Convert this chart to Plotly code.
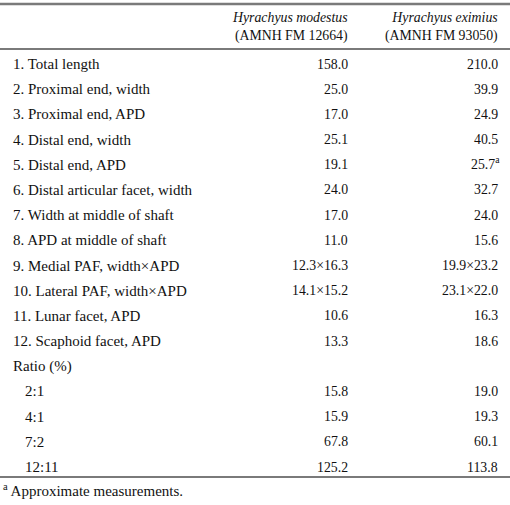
import plotly.graph_objects as go

row_labels = [
    "1. Total length", "2. Proximal end, width", "3. Proximal end, APD",
    "4. Distal end, width", "5. Distal end, APD", "6. Distal articular facet, width",
    "7. Width at middle of shaft", "8. APD at middle of shaft",
    "9. Medial PAF, width×APD", "10. Lateral PAF, width×APD",
    "11. Lunar facet, APD", "12. Scaphoid facet, APD",
    "Ratio (%)", "2:1", "4:1", "7:2", "12:11",
]
indented = [False] * 13 + [True] * 4
modestus = ["158.0", "25.0", "17.0", "25.1", "19.1", "24.0", "17.0", "11.0",
            "12.3×16.3", "14.1×15.2", "10.6", "13.3", "", "15.8", "15.9", "67.8", "125.2"]
eximius = ["210.0", "39.9", "24.9", "40.5", "25.7<sup>a</sup>", "32.7", "24.0", "15.6",
           "19.9×23.2", "23.1×22.0", "16.3", "18.6", "", "19.0", "19.3", "60.1", "113.8"]
headers = ["<i>Hyrachyus modestus</i><br>(AMNH FM 12664)",
           "<i>Hyrachyus eximius</i><br>(AMNH FM 93050)"]
footnote = "<sup>a</sup> Approximate measurements."

FAM = "Liberation Serif"
LABEL = dict(family=FAM, size=15, color="#111")
NUM = dict(family=FAM, size=13.8, color="#111")
HEAD = dict(family=FAM, size=13.8, color="#111")
FOOT = dict(family=FAM, size=15, color="#111")
W, H = 510, 505
y0, dy = 64, 25.19
col_x = [350, 500]

fig = go.Figure()
fig.add_trace(go.Scatter(x=[0, W], y=[0, H], mode="markers", marker=dict(opacity=0),
                         hoverinfo="skip", showlegend=False))

ann = []
for i, lab in enumerate(row_labels):
    y = y0 + i * dy
    ann.append(dict(x=23 if indented[i] else 11, y=y, text=lab, xanchor="left", yanchor="middle", font=LABEL))
    if modestus[i]:
        ann.append(dict(x=col_x[0], y=y, text=modestus[i], xanchor="right", yanchor="middle", font=NUM))
    if eximius[i]:
        sup = "<sup>" in eximius[i]
        ann.append(dict(x=col_x[1] + (2 if sup else 0), y=y - (1.5 if sup else 0), text=eximius[i],
                        xanchor="right", yanchor="middle", font=NUM))
for cx, h in zip(col_x, headers):
    ann.append(dict(x=cx, y=26.5, text=h, xanchor="right", yanchor="middle", align="right", font=HEAD))
ann.append(dict(x=1, y=490, text=footnote, xanchor="left", yanchor="middle", font=FOOT))
for a in ann:
    a.update(xref="x", yref="y", showarrow=False)

shapes = []
for yy, w in [(4, 2.5), (49, 2), (477, 2)]:
    shapes.append(dict(type="line", xref="x", yref="y", x0=0, x1=W, y0=yy, y1=yy,
                       line=dict(color="#7a7a7a", width=w)))

fig.update_layout(
    width=W, height=H, margin=dict(l=0, r=0, t=0, b=0),
    paper_bgcolor="white", plot_bgcolor="white",
    font=dict(family=FAM),
    xaxis=dict(range=[0, W], visible=False, fixedrange=True),
    yaxis=dict(range=[H, 0], visible=False, fixedrange=True),
    annotations=ann, shapes=shapes,
)
fig.write_html("out.html", config={"displayModeBar": False},
               post_script="document.body.style.margin='0px';document.body.style.overflow='hidden';")
